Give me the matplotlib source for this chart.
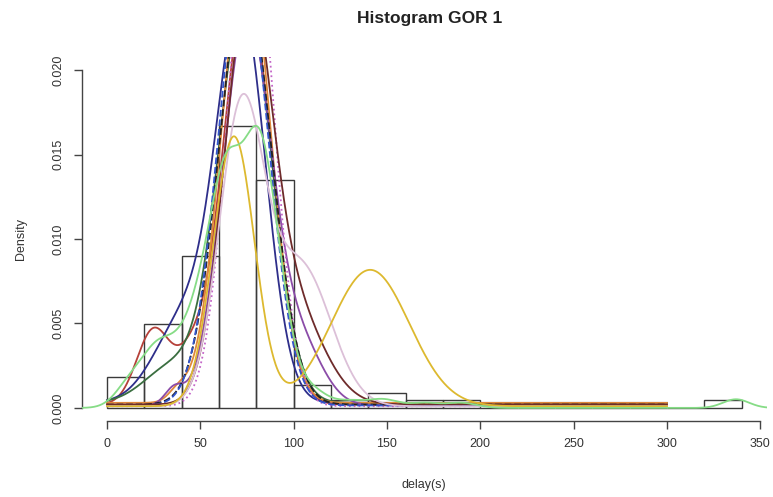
import numpy as np
import matplotlib
matplotlib.use("Agg")
import matplotlib.pyplot as plt

plt.rcParams['font.family'] = ['Liberation Sans', 'DejaVu Sans']

# ---- histogram data (counts per 20 s bin, n = 111) ----
bin_edges = list(range(0, 360, 20))
bin_counts = [4, 11, 20, 37, 30, 3, 1, 2, 1, 1, 0, 0, 0, 0, 0, 0, 1]

# ---- fitted density curves: (weight, mean, sd) mixture components + tail floor ----
curve_names = ["red", "navy", "darkgreen", "orange", "purple", "magenta_dot",
               "black_dash", "blue_dash", "maroon", "pink", "gold"]
curve_colors = ["#B5413A", "#2E2E8A", "#3A6E40", "#E0883A", "#8B4CA8", "#C466C8",
                "#222222", "#3355CC", "#6E2B2B", "#DCC0D8", "#DDB92F"]
curve_styles = ["-", "-", "-", "-", "-", ":", "--", "--", "-", "-", "-"]
red_comps = [(0.10, 25, 9), (0.045, 45, 8), (0.80, 75, 13)]
navy_comps = [(0.2, 42, 16), (0.75, 72, 13)]
darkgreen_comps = [(0.08, 35, 15), (0.85, 74, 14)]
orange_comps = [(0.008, 38, 5), (0.88, 74.5, 13)]
purple_comps = [(0.012, 36, 5), (0.75, 75, 13), (0.10, 104, 12)]
magenta_dot_comps = [(0.90, 77, 12)]
black_dash_comps = [(0.88, 74, 14)]
blue_dash_comps = [(0.88, 73, 13.5)]
maroon_comps = [(0.70, 75, 12.5), (0.25, 98, 17)]
pink_comps = [(0.52, 72, 12), (0.33, 104, 16)]
gold_comps = [(0.44, 68, 11), (0.425, 141, 21)]
curve_comps = [red_comps, navy_comps, darkgreen_comps, orange_comps, purple_comps,
               magenta_dot_comps, black_dash_comps, blue_dash_comps, maroon_comps,
               pink_comps, gold_comps]
curve_floor = [0.0002, 0.0003, 0.0003, 0.0003, 0.00015, 0.0001, 0.0002, 0.00015,
               0.0002, 0.0001, 0.0001]

# kernel density of the raw delays (light green)
kde_comps = [(0.03, 13, 8), (0.06, 27, 8), (0.05, 40, 8), (0.10, 52, 8),
             (0.22, 64, 8), (0.04, 72, 8), (0.25, 81, 8), (0.10, 92, 8),
             (0.02, 110, 8), (0.008, 130, 8), (0.01, 148, 8), (0.006, 170, 8),
             (0.006, 190, 8), (0.009, 337, 7)]
kde_color = "#86DC86"


def mixture(x, comps):
    y = np.zeros_like(x)
    for w, m, s in comps:
        y += w * np.exp(-0.5 * ((x - m) / s) ** 2) / (s * np.sqrt(2 * np.pi))
    return y


fig = plt.figure(figsize=(7.73, 4.97), dpi=100)
ax = fig.add_axes([0.1056, 0.152, 0.8866, 0.7343])

n = sum(bin_counts)
width = 20
dens = [c / (n * width) for c in bin_counts]
ax.bar(bin_edges[:-1], dens, width=width, align='edge', fill=False,
       edgecolor="#3a3a3a", linewidth=1.0, zorder=1)

x_fit = np.linspace(0, 300, 1200)
for comps, col, ls, fl in zip(curve_comps, curve_colors, curve_styles, curve_floor):
    ax.plot(x_fit, mixture(x_fit, comps) + fl, color=col, linestyle=ls,
            linewidth=1.3, zorder=2)

x_kde = np.linspace(-20, 365, 1500)
ax.plot(x_kde, mixture(x_kde, kde_comps), color=kde_color, linewidth=1.3, zorder=3)

ax.set_xlim(-13.6, 353.6)
ax.set_ylim(-0.0008, 0.0208)
for s in ["top", "right"]:
    ax.spines[s].set_visible(False)
ax.spines["left"].set_bounds(0, 0.02)
ax.spines["bottom"].set_bounds(0, 350)
for s in ["left", "bottom"]:
    ax.spines[s].set_color("#444444")
    ax.spines[s].set_linewidth(1.0)
ax.set_xticks([0, 50, 100, 150, 200, 250, 300, 350])
ax.set_yticks([0.0, 0.005, 0.010, 0.015, 0.020])
ax.set_yticklabels(["0.000", "0.005", "0.010", "0.015", "0.020"], rotation=90,
                   va='center')
ax.tick_params(direction='out', length=6, width=1.0, color="#444444",
               labelsize=9, labelcolor="#333333", pad=6)
ax.set_xlabel("delay(s)", fontsize=9, color="#333333", labelpad=21)
ax.set_ylabel("Density", fontsize=9, color="#333333", labelpad=19)
fig.text(0.556, 0.962, "Histogram GOR 1", ha='center', va='center',
         fontsize=12.5, fontweight='bold', color="#222222")

fig.savefig("out.png", dpi=100)
